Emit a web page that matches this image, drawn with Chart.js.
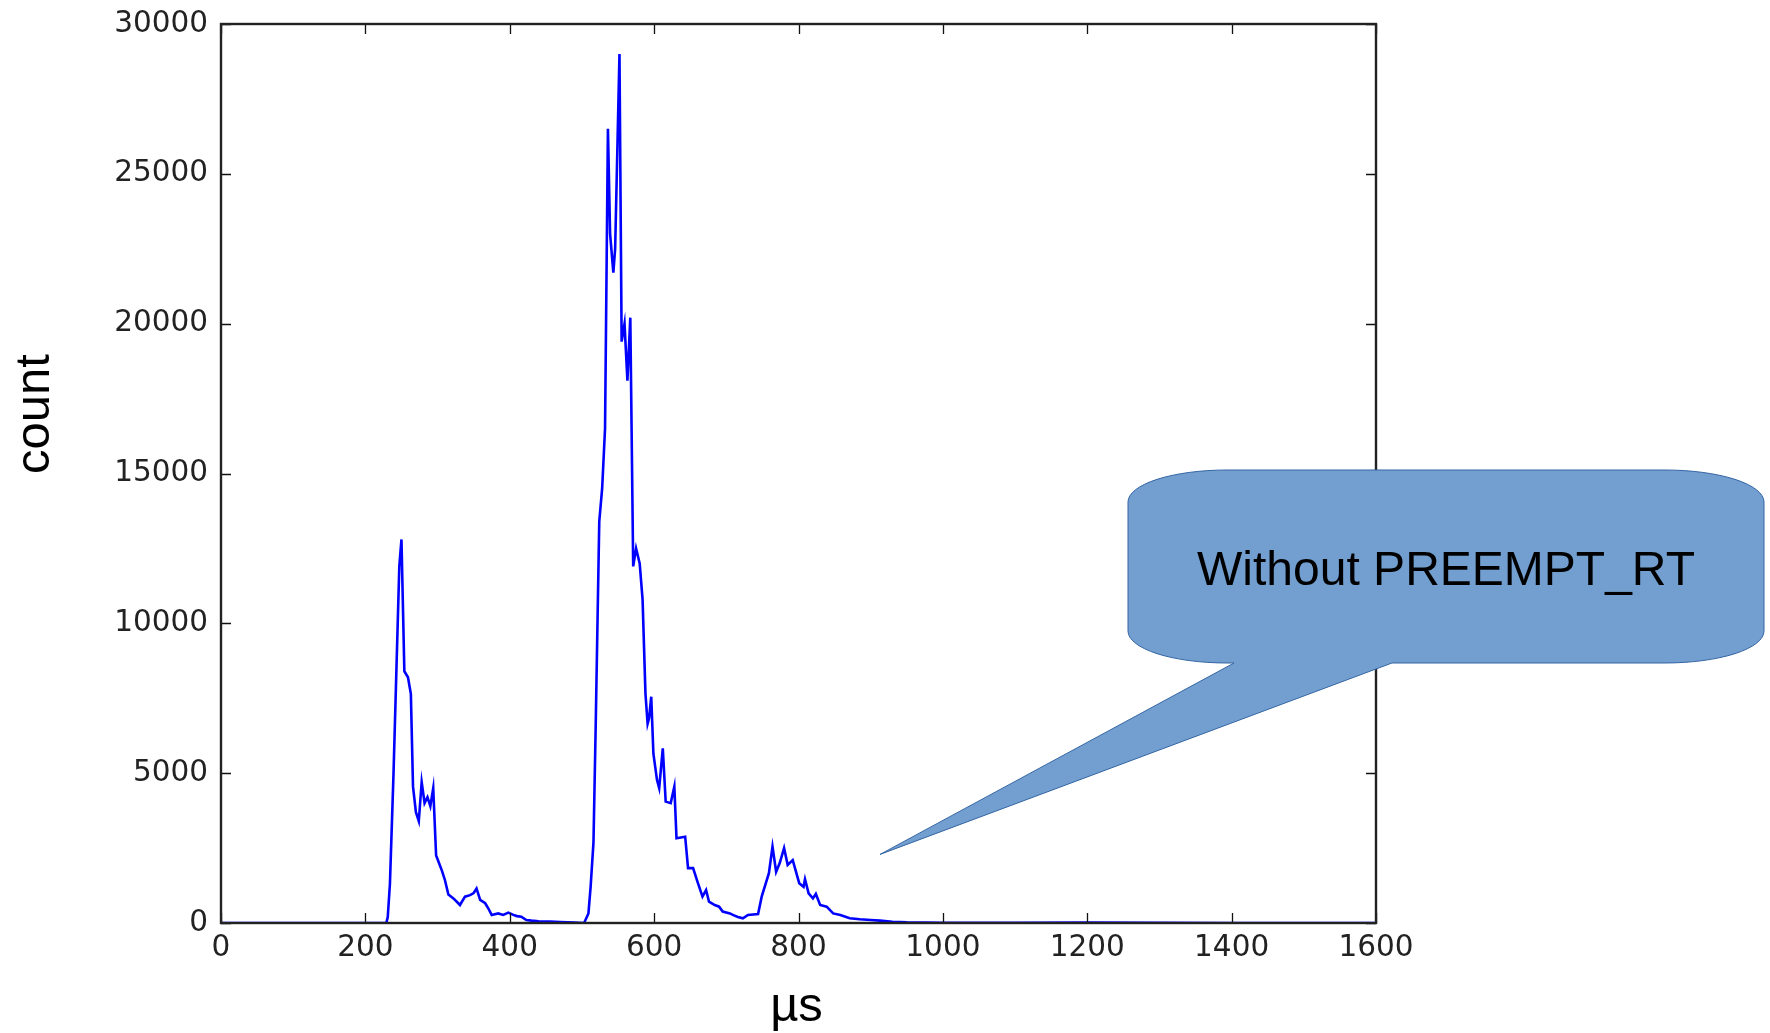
<!DOCTYPE html>
<html>
<head>
<meta charset="utf-8">
<script src="https://cdn.jsdelivr.net/npm/chart.js@4"></script>
<style>
  html, body { margin: 0; padding: 0; background: #fff; }
  canvas { display: block; }
</style>
</head>
<body>
<canvas id="latency-chart" width="1770" height="1033"></canvas>
<script>
// latency histogram, values
var us = [0, 229, 231, 234, 239, 247, 250, 254, 259, 263, 266, 270, 274, 278, 282, 286, 290, 294, 298, 302,
  306, 310, 315, 322, 327, 331, 338, 345, 350, 354, 359, 366, 370, 375, 384, 391, 398, 405, 410, 416,
  423, 430, 440, 456, 470, 490, 503, 509, 512, 516, 519, 524, 528, 532, 536, 539, 543.5, 546, 552, 555,
  559, 563, 567, 571, 575, 580, 584, 588, 591, 593, 596, 599, 604, 607, 612, 616, 623, 628, 631, 643,
  647, 654, 660, 667, 672, 676, 684, 690, 695, 705, 709, 716, 723, 730, 744, 749, 759, 764, 769, 774,
  780, 785, 792, 801, 807, 809, 814, 820, 824, 830, 839, 848, 858, 871, 885, 900, 913, 930, 950, 1000,
  1100, 1200, 1300, 1400, 1600]
var counts = [0, 0, 200, 1300, 5000, 11900, 12800, 8400, 8200, 7650, 4550, 3700, 3400, 4700, 4000, 4200, 3900, 4500, 2250, 2000,
  1750, 1450, 950, 820, 700, 600, 880, 930, 1000, 1150, 770, 660, 500, 270, 320, 270, 345, 270, 230, 210,
  100, 80, 60, 45, 30, 15, 0, 320, 1200, 2700, 6500, 13400, 14500, 16500, 26500, 23000, 21700, 22500, 29000, 19400,
  20000, 18100, 20200, 11900, 12500, 12000, 10800, 7650, 6650, 6830, 7550, 5650, 4770, 4500, 5830, 4050, 4000, 4550, 2830, 2880,
  1830, 1830, 1380, 880, 1100, 710, 600, 545, 380, 320, 270, 200, 156, 270, 300, 880, 1660, 2550, 1710, 2000,
  2500, 1940, 2100, 1330, 1210, 1460, 990, 820, 970, 600, 545, 320, 267, 156, 123, 100, 78, 40, 22, 10,
  5, 15, 5, 0, 0]

var xTicks = [0, 200, 400, 600, 800, 1000, 1200, 1400, 1600]
var yTicks = [0, 5000, 10000, 15000, 20000, 25000, 30000]

var xTitle = 'µs'
var yTitle = 'count'
var calloutText = 'Without PREEMPT_RT'
var calloutTip = { x: 913, y: 2290 }   // where the pointer ends, in data units

var points = us.map(function (x, i) { return { x: x, y: counts[i] } })

var tickFont = { family: 'DejaVu Sans', size: 29.5 }

// matplotlib-ish frame with inward ticks on all four sides
var framePlugin = {
  id: 'frame',
  afterDatasetsDraw: function (chart) {
    var ctx = chart.ctx, a = chart.chartArea
    var xs = chart.scales.x, ys = chart.scales.y
    ctx.save()
    ctx.strokeStyle = '#111'
    ctx.lineWidth = 1.3
    ctx.beginPath()
    xTicks.forEach(function (v) {
      var px = Math.round(xs.getPixelForValue(v)) + 0.5
      ctx.moveTo(px, a.bottom); ctx.lineTo(px, a.bottom - 10)
      ctx.moveTo(px, a.top); ctx.lineTo(px, a.top + 10)
    })
    yTicks.forEach(function (v) {
      var py = Math.round(ys.getPixelForValue(v)) + 0.5
      ctx.moveTo(a.left, py); ctx.lineTo(a.left + 10, py)
      ctx.moveTo(a.right, py); ctx.lineTo(a.right - 10, py)
    })
    ctx.stroke()
    ctx.strokeStyle = '#222'
    ctx.lineWidth = 2.4
    ctx.strokeRect(a.left, a.top, a.right - a.left, a.bottom - a.top)
    ctx.restore()
  }
}

var labelPlugin = {
  id: 'labels',
  afterDraw: function (chart) {
    var ctx = chart.ctx, a = chart.chartArea
    ctx.save()
    ctx.fillStyle = '#000'
    ctx.font = '49px "Liberation Sans"'
    ctx.textAlign = 'center'
    ctx.textBaseline = 'alphabetic'
    ctx.fillText(xTitle, (a.left + a.right) / 2 - 2, 1021)
    ctx.translate(49, 414)
    ctx.rotate(-Math.PI / 2)
    ctx.fillText(yTitle, 0, 0)
    ctx.restore()

    // speech bubble
    var L = 1128, R = 1764, T = 470, B = 663, rx = 99, ry = 32
    var baseL = 1234, baseR = 1392
    var tipX = chart.scales.x.getPixelForValue(calloutTip.x)
    var tipY = chart.scales.y.getPixelForValue(calloutTip.y)
    ctx.save()
    ctx.beginPath()
    ctx.moveTo(L + rx, T)
    ctx.lineTo(R - rx, T)
    ctx.ellipse(R - rx, T + ry, rx, ry, 0, -Math.PI / 2, 0)
    ctx.lineTo(R, B - ry)
    ctx.ellipse(R - rx, B - ry, rx, ry, 0, 0, Math.PI / 2)
    ctx.lineTo(baseR, B)
    ctx.lineTo(tipX, tipY)
    ctx.lineTo(baseL, B)
    ctx.lineTo(L + rx, B)
    ctx.ellipse(L + rx, B - ry, rx, ry, 0, Math.PI / 2, Math.PI)
    ctx.lineTo(L, T + ry)
    ctx.ellipse(L + rx, T + ry, rx, ry, 0, Math.PI, Math.PI * 1.5)
    ctx.closePath()
    ctx.fillStyle = '#729fcf'
    ctx.fill()
    ctx.strokeStyle = '#3465a4'
    ctx.lineWidth = 1
    ctx.stroke()
    ctx.fillStyle = '#000'
    ctx.font = '48px "Liberation Sans"'
    ctx.textAlign = 'center'
    ctx.fillText(calloutText, (L + R) / 2, 585)
    ctx.restore()
  }
}

var latencyChart = new Chart(document.getElementById('latency-chart'), {
  type: 'line',
  data: {
    datasets: [{
      label: 'count',
      data: points,
      borderColor: '#0000ff',
      borderWidth: 2.6,
      pointRadius: 0,
      tension: 0,
      fill: false
    }]
  },
  options: {
    responsive: false,
    animation: false,
    events: [],
    layout: { padding: { left: 0, right: 394, top: 24, bottom: 0 } },
    plugins: { legend: { display: false }, tooltip: { enabled: false } },
    scales: {
      x: {
        type: 'linear',
        min: 0,
        max: 1600,
        grid: { display: false, drawTicks: false },
        border: { display: false },
        afterBuildTicks: function (s) { s.ticks = xTicks.map(function (v) { return { value: v } }) },
        afterFit: function (s) { s.height = 110 },
        ticks: { font: tickFont, color: '#222', padding: 8, maxRotation: 0, callback: function (v) { return String(v) } }
      },
      y: {
        min: 0,
        max: 30000,
        grid: { display: false, drawTicks: false },
        border: { display: false },
        afterBuildTicks: function (s) { s.ticks = yTicks.map(function (v) { return { value: v } }) },
        afterFit: function (s) { s.width = 221; s.paddingTop = 0; s.paddingBottom = 0 },
        ticks: { font: tickFont, color: '#222', padding: 13, callback: function (v) { return String(v) } }
      }
    }
  },
  plugins: [framePlugin, labelPlugin]
});
</script>
</body>
</html>
